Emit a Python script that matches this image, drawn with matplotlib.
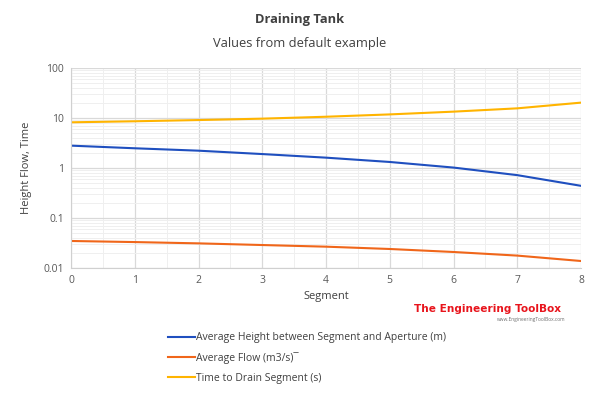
import matplotlib
matplotlib.use('Agg')
import matplotlib.pyplot as plt
from matplotlib.ticker import LogLocator, NullFormatter, FixedLocator

plt.rcParams['font.family'] = ['Open Sans', 'DejaVu Sans']

# 数据
segment = [0, 1, 2, 3, 4, 5, 6, 7, 8]
height = [2.8, 2.48, 2.22, 1.9, 1.61, 1.32, 1.02, 0.72, 0.44]
flow = [0.0347, 0.033, 0.0311, 0.0288, 0.0267, 0.024, 0.0209, 0.0177, 0.0138]
drain_time = [8.2, 8.6, 9.1, 9.7, 10.6, 11.8, 13.4, 15.6, 20.3]
labels = ['Average Height between Segment and Aperture (m)',
          'Average Flow (m3/s)¯',
          'Time to Drain Segment (s)']
colors = ['#1f4fbf', '#f0661a', '#ffb400']

fig = plt.figure(figsize=(6, 3.95), dpi=100)
ax = fig.add_axes([71 / 600, 1 - 268 / 395, 510 / 600, 200 / 395])

l1, = ax.plot(segment, height, color=colors[0], lw=1.5)
l2, = ax.plot(segment, flow, color=colors[1], lw=1.5)
l3, = ax.plot(segment, drain_time, color=colors[2], lw=1.5)

ax.set_yscale('log')
ax.set_ylim(0.01, 100)
ax.set_xlim(0, 8)
ax.set_yticks([0.01, 0.1, 1, 10, 100])
ax.set_yticklabels(['0.01', '0.1', '1', '10', '100'])
ax.yaxis.set_minor_locator(LogLocator(base=10, subs=range(2, 10)))
ax.yaxis.set_minor_formatter(NullFormatter())
ax.set_xticks(segment)
ax.xaxis.set_minor_locator(FixedLocator([i + 0.5 for i in range(8)]))
ax.grid(which='major', color='#d9d9d9', lw=0.9)
ax.grid(which='minor', color='#efefef', lw=0.7)
ax.set_axisbelow(True)
for s in ['top', 'right']:
    ax.spines[s].set_visible(False)
for s in ['left', 'bottom']:
    ax.spines[s].set_color('#d0d0d0')
ax.tick_params(which='both', length=0, labelsize=7.5, colors='#595959', pad=5)

ax.set_xlabel('Segment', fontsize=8, color='#404040', labelpad=4)
ax.set_ylabel('Height Flow, Time', fontsize=8, color='#404040', labelpad=8)

fig.text(0.5, 1 - 20 / 395, 'Draining Tank', ha='center', va='center',
         fontsize=9.3, fontweight='bold', color='#404040')
fig.text(0.5, 1 - 44 / 395, 'Values from default example', ha='center', va='center',
         fontsize=9.3, color='#404040')

fig.legend([l1, l2, l3], labels, loc='upper left', bbox_to_anchor=(159 / 600, 1 - 323 / 395),
           frameon=False, fontsize=7.5, handlelength=2.6, handletextpad=0.1,
           labelspacing=0.85, labelcolor='#404040')

fig.text(488 / 600, 1 - 309 / 395, 'The Engineering ToolBox', ha='center', va='center',
         fontsize=7.6, fontweight='bold', color='#e8141c',
         family=['Liberation Sans Narrow', 'DejaVu Sans'])
fig.text(531 / 600, 1 - 320 / 395, 'www.EngineeringToolBox.com', ha='center', va='center',
         fontsize=3.5, color='#707070')

fig.savefig('out.png', dpi=100)
